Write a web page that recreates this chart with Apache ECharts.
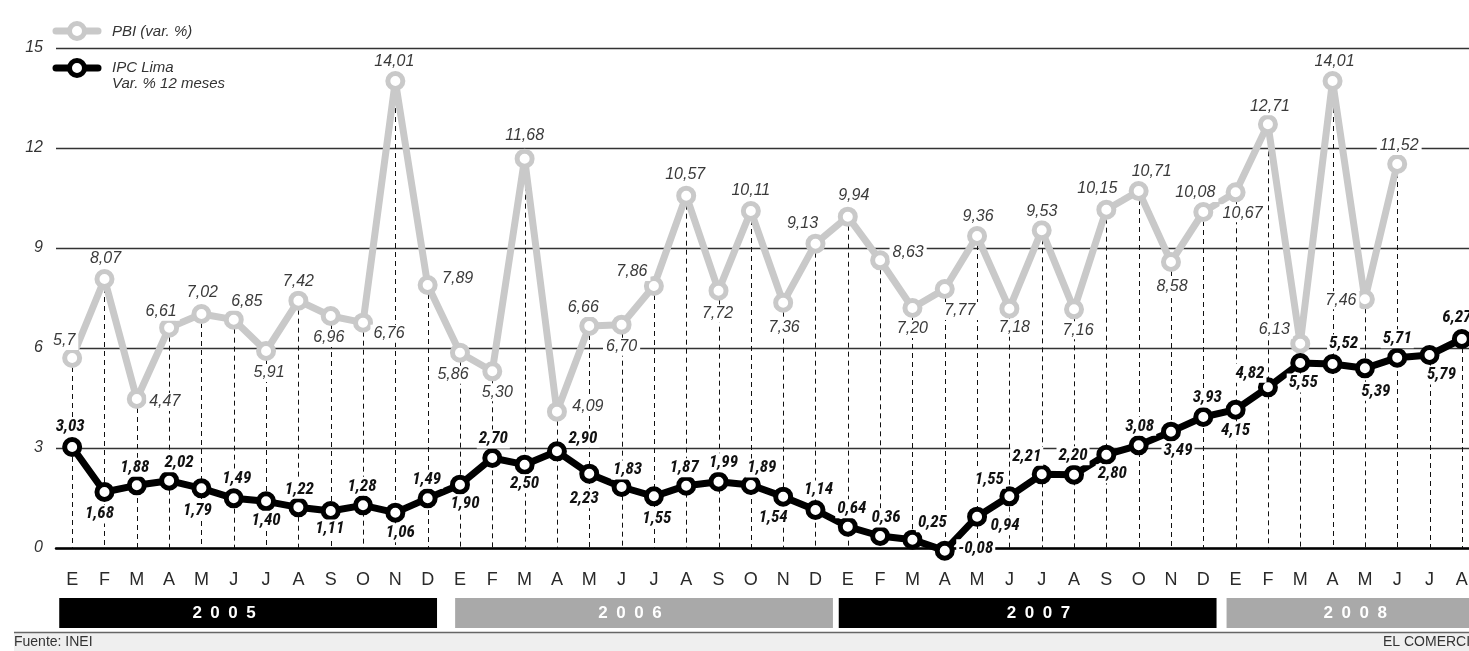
<!DOCTYPE html>
<html>
<head>
<meta charset="utf-8">
<script src="https://cdn.jsdelivr.net/npm/echarts@6/dist/echarts.min.js"></script>
<style>
html,body{margin:0;padding:0;background:#fff;}
#c{width:1469px;height:651px;}
</style>
</head>
<body>
<div id="c"></div>
<script>
// ---- data ----
const monthLetters = ['E','F','M','A','M','J','J','A','S','O','N','D'];
const years = ['2005','2006','2007','2008'];
const monthsPerYear = [12, 12, 12, 8];
const categories = [];
monthsPerYear.forEach(n => { for (let m = 0; m < n; m++) categories.push(monthLetters[m]); });

// PBI (var. %)
const pbi = [
  5.7, 8.07, 4.47, 6.61, 7.02, 6.85, 5.91, 7.42, 6.96, 6.76, 14.01, 7.89,
  5.86, 5.30, 11.68, 4.09, 6.66, 6.70, 7.86, 10.57, 7.72, 10.11, 7.36, 9.13,
  9.94, 8.63, 7.20, 7.77, 9.36, 7.18, 9.53, 7.16, 10.15, 10.71, 8.58, 10.08,
  10.67, 12.71, 6.13, 14.01, 7.46, 11.52, null, null
];
// IPC Lima, Var. % 12 meses
const ipc = [
  3.03, 1.68, 1.88, 2.02, 1.79, 1.49, 1.40, 1.22, 1.11, 1.28, 1.06, 1.49,
  1.90, 2.70, 2.50, 2.90, 2.23, 1.83, 1.55, 1.87, 1.99, 1.89, 1.54, 1.14,
  0.64, 0.36, 0.25, -0.08, 0.94, 1.55, 2.21, 2.20, 2.80, 3.08, 3.49, 3.93,
  4.15, 4.82, 5.55, 5.52, 5.39, 5.71, 5.79, 6.27
];
const pbiOneDecimal = [0]; // printed with one decimal in the source
const yTicks = [0, 3, 6, 9, 12, 15];

// ---- layout (label offsets, in px from the point) ----
const pbiOff = [
  [-8,-17],[1,-20],[28,3],[-8,-16],[1,-21],[13,-18],[3,22],[0,-19],[-2,22],[26,11],[-1,-19],[30,-6],
  [-7,22],[5,21],[0,-23],[31,-5],[-6,-18],[0,22],[-22,-14],[-1,-21],[-1,23],[0,-20],[1,25],[-13,-20],
  [6,-21],[28,-8],[0,21],[15,22],[1,-19],[5,19],[0,-19],[4,21],[-9,-21],[13,-19],[1,25],[-8,-19],
  [7,21],[2,-18],[-26,-14],[2,-19],[-24,1],[2,-18],null,null
];
const ipcOff = [
  [-2,-20],[-5,22],[-2,-18],[10,-18],[-4,22],[3,-20],[0,19],[1,-18],[-1,18],[-1,-19],[5,20],[-1,-19],
  [5,19],[1,-19],[0,19],[26,-13],[-5,25],[6,-17],[3,22],[-2,-18],[5,-19],[11,-17],[-10,21],[3,-20],
  [4,-18],[6,-18],[20,-17],[31,-2],[28,9],[-20,-17],[-15,-18],[-1,-19],[6,19],[1,-19],[7,19],[4,-19],
  [0,21],[-18,-14],[3,20],[11,-20],[11,23],[0,-19],[12,20],[-5,-21]
];
const yearBarIdx = [[-0.4, 11.29], [11.85, 23.54], [23.72, 35.41], [35.72, 44.6]];
const yearTextIdx = [4.7, 17.26, 29.9, 39.7];
const yearColors = ['#000000', '#a9a9a9', '#000000', '#a9a9a9'];

const FONT = "'Liberation Sans', Arial, Helvetica, sans-serif";
const NARROW = "'Liberation Sans Narrow', 'Roboto Condensed', 'Liberation Sans', Arial, sans-serif";
const GRAY = '#c9c9c9';

function fmt(v, d) { return v.toFixed(d).replace('.', ','); }

const dashData = categories.map((c, i) => [i, Math.max(pbi[i] == null ? -Infinity : pbi[i], ipc[i])]);
const pbiLabelData = pbi.map((v, i) => [i, v]).filter(d => d[1] != null);
const ipcLabelData = ipc.map((v, i) => [i, v]);

function labelSeries(data, offs, font, color, padX, textOf, z) {
  return {
    type: 'custom',
    z: z,
    silent: true,
    clip: false,
    data: data,
    encode: { x: 0, y: 1 },
    renderItem: function (params, api) {
      const i = api.value(0), v = api.value(1);
      const p = api.coord([i, v]);
      const o = offs[i];
      return {
        type: 'text',
        x: p[0] + o[0],
        y: p[1] + o[1],
        style: {
          text: textOf(v, i),
          font: font,
          fill: color,
          align: 'center',
          verticalAlign: 'middle',
          backgroundColor: '#fff',
          padding: [1, padX]
        }
      };
    }
  };
}

const chart = echarts.init(document.getElementById('c'), null, { renderer: 'canvas' });

chart.setOption({
  animation: false,
  backgroundColor: '#ffffff',
  grid: { left: 56, top: 48, width: 1422, height: 500, containLabel: false, outerBoundsMode: 'none' },
  xAxis: {
    type: 'category',
    data: categories,
    boundaryGap: true,
    axisLine: { show: true, lineStyle: { color: '#000', width: 2.5 } },
    axisTick: { show: false },
    splitLine: { show: false },
    axisLabel: { interval: 0, margin: 23, fontSize: 18, color: '#2a2a2a', fontFamily: FONT }
  },
  yAxis: {
    type: 'value',
    min: yTicks[0], max: yTicks[yTicks.length - 1], interval: 3,
    axisLine: { show: false },
    axisTick: { show: false },
    splitLine: { show: true, lineStyle: { color: '#333', width: 1.3 } },
    axisLabel: {
      margin: 13, fontSize: 16, fontStyle: 'italic', color: '#333', fontFamily: FONT,
      padding: [4, 0, 0, 0]
    }
  },
  series: [
    {
      type: 'custom',
      z: 1,
      silent: true,
      data: dashData,
      encode: { x: 0, y: 1 },
      clip: false,
      renderItem: function (params, api) {
        const i = api.value(0), top = api.value(1);
        const p1 = api.coord([i, top]);
        const p2 = api.coord([i, 0]);
        return {
          type: 'line',
          shape: { x1: Math.round(p1[0]) + 0.5, y1: p1[1], x2: Math.round(p2[0]) + 0.5, y2: p2[1] },
          style: { stroke: '#111', lineWidth: 1, lineDash: [5, 4] }
        };
      }
    },
    {
      name: 'PBI (var. %)',
      type: 'line',
      z: 3,
      data: pbi,
      clip: false,
      connectNulls: false,
      symbol: 'circle',
      symbolSize: 15,
      showAllSymbol: true,
      lineStyle: { color: GRAY, width: 7 },
      itemStyle: { color: '#fff', borderColor: GRAY, borderWidth: 5 },
      label: { show: false },
      emphasis: { disabled: true }
    },
    {
      name: 'IPC Lima',
      type: 'line',
      z: 4,
      data: ipc,
      clip: false,
      symbol: 'circle',
      symbolSize: 15,
      showAllSymbol: true,
      lineStyle: { color: '#000', width: 7 },
      itemStyle: { color: '#fff', borderColor: '#000', borderWidth: 5 },
      label: { show: false },
      emphasis: { disabled: true }
    },
    labelSeries(pbiLabelData, pbiOff, 'italic 16px ' + FONT, '#3a3a3a', 3,
      (v, i) => fmt(v, pbiOneDecimal.includes(i) ? 1 : 2), 5),
    labelSeries(ipcLabelData, ipcOff, 'italic bold 17px ' + NARROW, '#111', 2,
      (v) => fmt(v, 2), 6)
  ]
});

// ---- graphics: legend, year bands, footer ----
const x0 = chart.convertToPixel({ xAxisIndex: 0 }, 0);
const step = chart.convertToPixel({ xAxisIndex: 0 }, 1) - x0;
const xAt = idx => x0 + idx * step;

const g = [];
// legend
[[31, GRAY], [68, '#000']].forEach(([y, col]) => {
  g.push({ type: 'line', shape: { x1: 56, y1: y, x2: 98, y2: y }, style: { stroke: col, lineWidth: 7, lineCap: 'round' }, z: 10 });
  g.push({ type: 'circle', shape: { cx: 77, cy: y, r: 7.5 }, style: { fill: '#fff', stroke: col, lineWidth: 5 }, z: 11 });
});
g.push({ type: 'text', x: 112, y: 32, z: 11, style: { text: 'PBI (var. %)', font: 'italic 15px ' + FONT, fill: '#333', verticalAlign: 'middle', align: 'left' } });
g.push({ type: 'text', x: 112, y: 60, z: 11, style: { text: 'IPC Lima\nVar. % 12 meses', font: 'italic 15px ' + FONT, fill: '#333', verticalAlign: 'top', align: 'left', lineHeight: 16 } });

// year bands
years.forEach((yr, k) => {
  const a = xAt(yearBarIdx[k][0]), b = xAt(yearBarIdx[k][1]);
  g.push({ type: 'rect', shape: { x: a, y: 598, width: b - a, height: 30 }, style: { fill: yearColors[k] }, z: 5 });
  g.push({ type: 'text', x: xAt(yearTextIdx[k]), y: 613, z: 6,
    style: { text: yr.split('').join('\u2002'), font: 'bold 17px ' + FONT, fill: '#fff', align: 'center', verticalAlign: 'middle' } });
});

// footer
g.push({ type: 'rect', shape: { x: 14, y: 633, width: 1455, height: 18 }, style: { fill: '#efefef' }, z: 5 });
g.push({ type: 'line', shape: { x1: 14, y1: 632.5, x2: 1469, y2: 632.5 }, style: { stroke: '#666', lineWidth: 1.5 }, z: 6 });
g.push({ type: 'text', x: 14, y: 642, z: 7, style: { text: 'Fuente: INEI', font: '14px ' + FONT, fill: '#333', verticalAlign: 'middle', align: 'left' } });
g.push({ type: 'text', x: 1383, y: 642, z: 7, style: { text: 'EL COMERCIO', font: '14px ' + FONT, fill: '#333', verticalAlign: 'middle', align: 'left' } });

chart.setOption({ graphic: g });
</script>
</body>
</html>
